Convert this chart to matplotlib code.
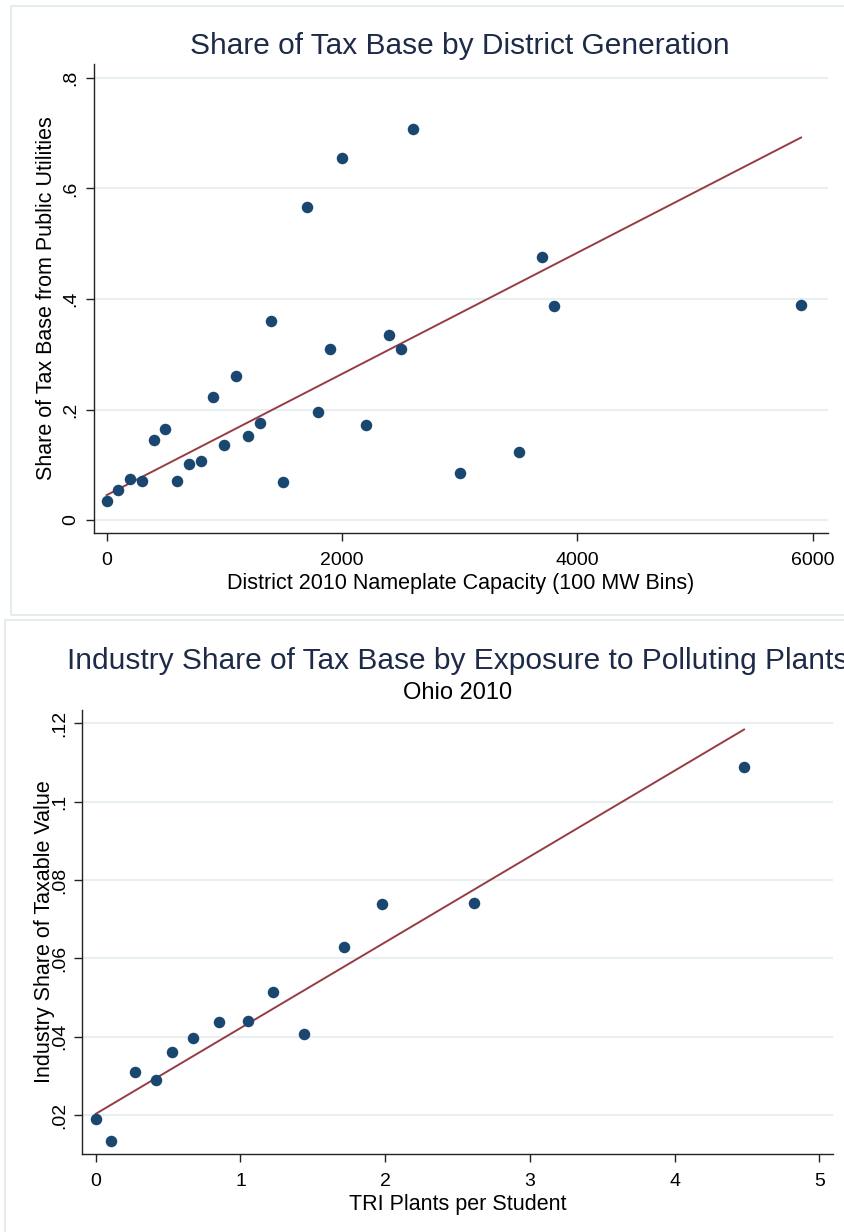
#! /usr/bin/env python3

#Two stacked scatter plots with linear fits: utility share of tax base by
#district generation, and industry share of taxable value by TRI exposure.

import numpy as np
import matplotlib
matplotlib.use('Agg')
import matplotlib.pyplot as plt
from matplotlib.patches import Rectangle

#District 2010 nameplate capacity bins and share of tax base from public utilities.
capacityBins = [0, 100, 200, 300, 400, 500, 600, 700, 800, 900, 1000, 1100, 1200,
                1300, 1400, 1500, 1700, 1800, 1900, 2000, 2200, 2400, 2500, 2600,
                3000, 3500, 3700, 3800, 5900]
utilityShare = [0.034, 0.054, 0.075, 0.071, 0.145, 0.164, 0.071, 0.101, 0.107, 0.223,
                0.135, 0.261, 0.152, 0.176, 0.360, 0.068, 0.567, 0.195, 0.309, 0.656,
                0.172, 0.335, 0.310, 0.708, 0.085, 0.123, 0.476, 0.387, 0.389]
#Linear fit (intercept, slope) estimated on the district-level data.
utilityFit = [0.045, 1.097e-4]

#TRI plants per student and industry share of taxable value (Ohio 2010).
triPlants = [0.0, 0.105, 0.271, 0.416, 0.524, 0.669, 0.851, 1.054, 1.222, 1.441,
             1.715, 1.980, 2.616, 4.48]
industryShare = [0.0189, 0.0134, 0.0311, 0.0289, 0.0362, 0.0396, 0.0437, 0.0440,
                 0.0513, 0.0407, 0.0629, 0.0739, 0.0741, 0.1088]
industryFit = [0.0203, 0.0219]

#Tick positions and labels.
topXTicks = [0, 2000, 4000, 6000]
topYTicks = [0, 0.2, 0.4, 0.6, 0.8]
topYLabels = ['0', '.2', '.4', '.6', '.8']
botXTicks = [0, 1, 2, 3, 4, 5]
botYTicks = [0.02, 0.04, 0.06, 0.08, 0.10, 0.12]
botYLabels = ['.02', '.04', '.06', '.08', '.1', '.12']

W, H = 844.0, 1232.0
navy = '#1a476f'
maroon = '#963c44'
gridCol = '#e8eff1'
frameCol = '#e4ecee'

##################################################################################

def pixRect(left, top, right, bottom) :
  #Convert a pixel box (from top-left) into figure fractions.
  return [left/W, 1 - bottom/H, (right - left)/W, (bottom - top)/H]
#End of the function pixRect

##################################################################################

def drawPanel(fig, rect, x, y, fit, xlim, ylim, xticks, yticks, ylabels, xlabel, ylabel, ylabelX) :

  ax = fig.add_axes(rect)
  ax.set_xlim(xlim)
  ax.set_ylim(ylim)
  ax.patch.set_alpha(0)

  #Stata look: only left and bottom axis lines, light horizontal grid.
  ax.spines['top'].set_visible(False)
  ax.spines['right'].set_visible(False)
  for s in ['left', 'bottom'] :
    ax.spines[s].set_linewidth(1.0)
    ax.spines[s].set_color('#222222')
  ax.set_yticks(yticks)
  ax.set_yticklabels(ylabels, rotation = 90, va = 'center')
  ax.set_xticks(xticks)
  ax.tick_params(axis = 'both', length = 6, width = 1.0, labelsize = 14, color = '#222222')
  ax.tick_params(axis = 'x', pad = 7.5)
  ax.tick_params(axis = 'y', pad = 4)
  ax.yaxis.grid(True, color = gridCol, linewidth = 1.5)
  ax.set_axisbelow(True)

  #Fitted line over the observed range.
  xa = np.array(x)
  ya = np.array(y)
  xs = np.array([xa.min(), xa.max()])
  ax.plot(xs, fit[0] + fit[1]*xs, color = maroon, linewidth = 1.4, zorder = 2)

  ax.plot(xa, ya, 'o', color = navy, markersize = 8.3, markeredgewidth = 0, zorder = 3)

  ax.set_xlabel(xlabel, fontsize = 15.5, labelpad = 3)
  ax.set_ylabel(ylabel, fontsize = 15.5)
  ax.yaxis.set_label_coords(ylabelX, 0.5)

  return ax
#End of the function drawPanel

##################################################################################

def main() :
  plt.rcParams['font.family'] = ['Liberation Sans', 'DejaVu Sans']

  fig = plt.figure(figsize = (W/100.0, H/100.0), dpi = 100)
  fig.patch.set_facecolor('white')

  #Light frames around the two graph regions.
  fig.patches.append(Rectangle((11/W, 1 - 615/H), (W + 20)/W, 609/H, transform = fig.transFigure,
                               facecolor = 'none', edgecolor = frameCol, linewidth = 1.5, zorder = -5))
  fig.patches.append(Rectangle((5/W, 1 - (H + 20)/H), (W + 20)/W, (H + 20 - 620)/H, transform = fig.transFigure,
                               facecolor = 'none', edgecolor = frameCol, linewidth = 1.5, zorder = -5))

  #Top panel.
  drawPanel(fig, pixRect(93.6, 64, 828, 533), capacityBins, utilityShare, utilityFit,
            (-110.4, 6129), (-0.0235, 0.8253), topXTicks, topYTicks, topYLabels,
            'District 2010 Nameplate Capacity (100 MW Bins)',
            'Share of Tax Base from Public Utilities', -0.0498)
  fig.text(460/W, 1 - 46/H, 'Share of Tax Base by District Generation',
           fontsize = 21.5, color = '#1e2b48', ha = 'center', va = 'center')

  #Bottom panel.
  drawPanel(fig, pixRect(82.3, 710, 833, 1154), triPlants, industryShare, industryFit,
            (-0.0933, 5.095), (0.01004, 0.1234), botXTicks, botYTicks, botYLabels,
            'TRI Plants per Student',
            'Industry Share of Taxable Value', -0.036)
  fig.text(458/W, 1 - 661/H, 'Industry Share of Tax Base by Exposure to Polluting Plants',
           fontsize = 21.5, color = '#1e2b48', ha = 'center', va = 'center')
  fig.text(458/W, 1 - 693/H, 'Ohio 2010', fontsize = 17, color = 'black', ha = 'center', va = 'center')

  fig.savefig('out.png', dpi = 100)
#End of the function main

if __name__ == '__main__':
  main()
